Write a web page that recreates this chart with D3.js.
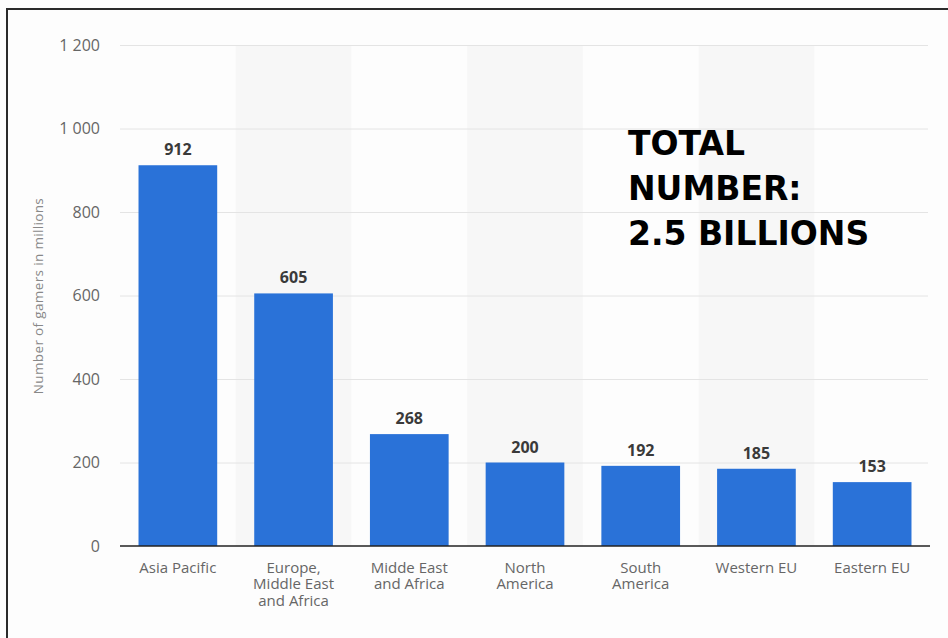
<!DOCTYPE html>
<html>
<head>
<meta charset="utf-8">
<script src="https://cdn.jsdelivr.net/npm/d3@7"></script>
<style>
  html, body { margin: 0; padding: 0; background: #fdfdfd; }
  svg { display: block; }
</style>
</head>
<body>
<svg id="chart" width="948" height="638"></svg>
<script>
const categories = ['Asia Pacific', 'Europe, Middle East and Africa', 'Midde East and Africa',
  'North America', 'South America', 'Western EU', 'Eastern EU'];
const categoryLines = [
  ['Asia Pacific'],
  ['Europe,', 'Middle East', 'and Africa'],
  ['Midde East', 'and Africa'],
  ['North', 'America'],
  ['South', 'America'],
  ['Western EU'],
  ['Eastern EU']
];
const gamers = [912, 605, 268, 200, 192, 185, 153];
const yTicks = [0, 200, 400, 600, 800, 1000, 1200];
const noteLines = ['TOTAL', 'NUMBER:', '2.5 BILLIONS'];

const svg = d3.select('#chart');

// frame: only top and left edges are visible
svg.append('line')
  .attr('x1', 6).attr('x2', 948).attr('y1', 9).attr('y2', 9)
  .attr('stroke', '#2b2b2b').attr('stroke-width', 2);
svg.append('line')
  .attr('x1', 7).attr('x2', 7).attr('y1', 8).attr('y2', 638)
  .attr('stroke', '#2b2b2b').attr('stroke-width', 2);

const xScale = d3.scaleBand()
  .domain(categories)
  .range([120, 930])
  .paddingInner(0.32)
  .paddingOuter(0.16);

const bandScale = d3.scaleBand()
  .domain(categories)
  .range([120, 930]);

const yScale = d3.scaleLinear()
  .domain([0, 1200])
  .range([546, 45]);

// alternating background stripes
svg.append('g')
  .selectAll('rect')
  .data(categories.filter((d, i) => i % 2 === 1))
  .enter()
  .append('rect')
  .attr('x', (d) => bandScale(d))
  .attr('y', yScale(1200) + 1)
  .attr('width', bandScale.bandwidth())
  .attr('height', yScale(0) - yScale(1200) - 1)
  .style('fill', '#f7f7f7');

// gridlines
svg.append('g')
  .attr('transform', 'translate(120, 0)')
  .call(d3.axisLeft(yScale).tickValues(yTicks.slice(1)).tickSize(-808).tickFormat(''))
  .call((g) => g.select('.domain').remove())
  .selectAll('line')
  .attr('stroke', '#e4e4e4');

// y tick labels
const yAxis = svg.append('g')
  .attr('transform', 'translate(112, 0)')
  .call(d3.axisLeft(yScale).tickValues(yTicks).tickSize(0).tickPadding(12)
    .tickFormat((d) => d3.format(',')(d).replace(',', ' ')));
yAxis.select('.domain').remove();
yAxis.selectAll('text')
  .style('font-family', '"Open Sans", sans-serif')
  .style('font-size', '16px')
  .style('fill', '#666');

svg.append('text')
  .attr('transform', 'translate(43, 296) rotate(-90)')
  .attr('text-anchor', 'middle')
  .style('font-family', '"Open Sans", sans-serif')
  .style('font-size', '13.5px')
  .style('letter-spacing', '0.35px')
  .style('fill', '#888')
  .text('Number of gamers in millions');

// bars
svg.append('g')
  .selectAll('rect')
  .data(gamers)
  .enter()
  .append('rect')
  .attr('x', (d, i) => xScale(categories[i]))
  .attr('y', (d) => yScale(d))
  .attr('width', xScale.bandwidth())
  .attr('height', (d) => yScale(0) - yScale(d))
  .style('fill', '#2a72d8');

// value labels
svg.append('g')
  .selectAll('text')
  .data(gamers)
  .enter()
  .append('text')
  .attr('x', (d, i) => xScale(categories[i]) + xScale.bandwidth() / 2)
  .attr('y', (d) => yScale(d) - 10)
  .attr('text-anchor', 'middle')
  .style('font-family', '"Open Sans", sans-serif')
  .style('font-weight', 'bold')
  .style('font-size', '16px')
  .style('fill', '#3a3a3a')
  .text((d) => d);

// x axis line
svg.append('line')
  .attr('x1', 120).attr('x2', 930)
  .attr('y1', yScale(0)).attr('y2', yScale(0))
  .attr('stroke', '#222').attr('stroke-width', 1.5);

// category labels
const catLabels = svg.append('g')
  .selectAll('text')
  .data(categoryLines)
  .enter()
  .append('text')
  .attr('text-anchor', 'middle')
  .style('font-family', '"Open Sans", sans-serif')
  .style('font-size', '15px')
  .style('fill', '#666');

catLabels.selectAll('tspan')
  .data((d, i) => d.map((line) => ({ line, cat: categories[i] })))
  .enter()
  .append('tspan')
  .attr('x', (d) => xScale(d.cat) + xScale.bandwidth() / 2)
  .attr('y', (d, j) => 573 + j * 16.4)
  .text((d) => d.line);

// annotation
svg.append('g')
  .selectAll('text')
  .data(noteLines)
  .enter()
  .append('text')
  .attr('x', 628)
  .attr('y', (d, i) => 155 + i * 45)
  .style('font-family', '"DejaVu Sans", sans-serif')
  .style('font-weight', 'bold')
  .style('font-size', '33px')
  .style('fill', '#000')
  .text((d) => d);
</script>
</body>
</html>
